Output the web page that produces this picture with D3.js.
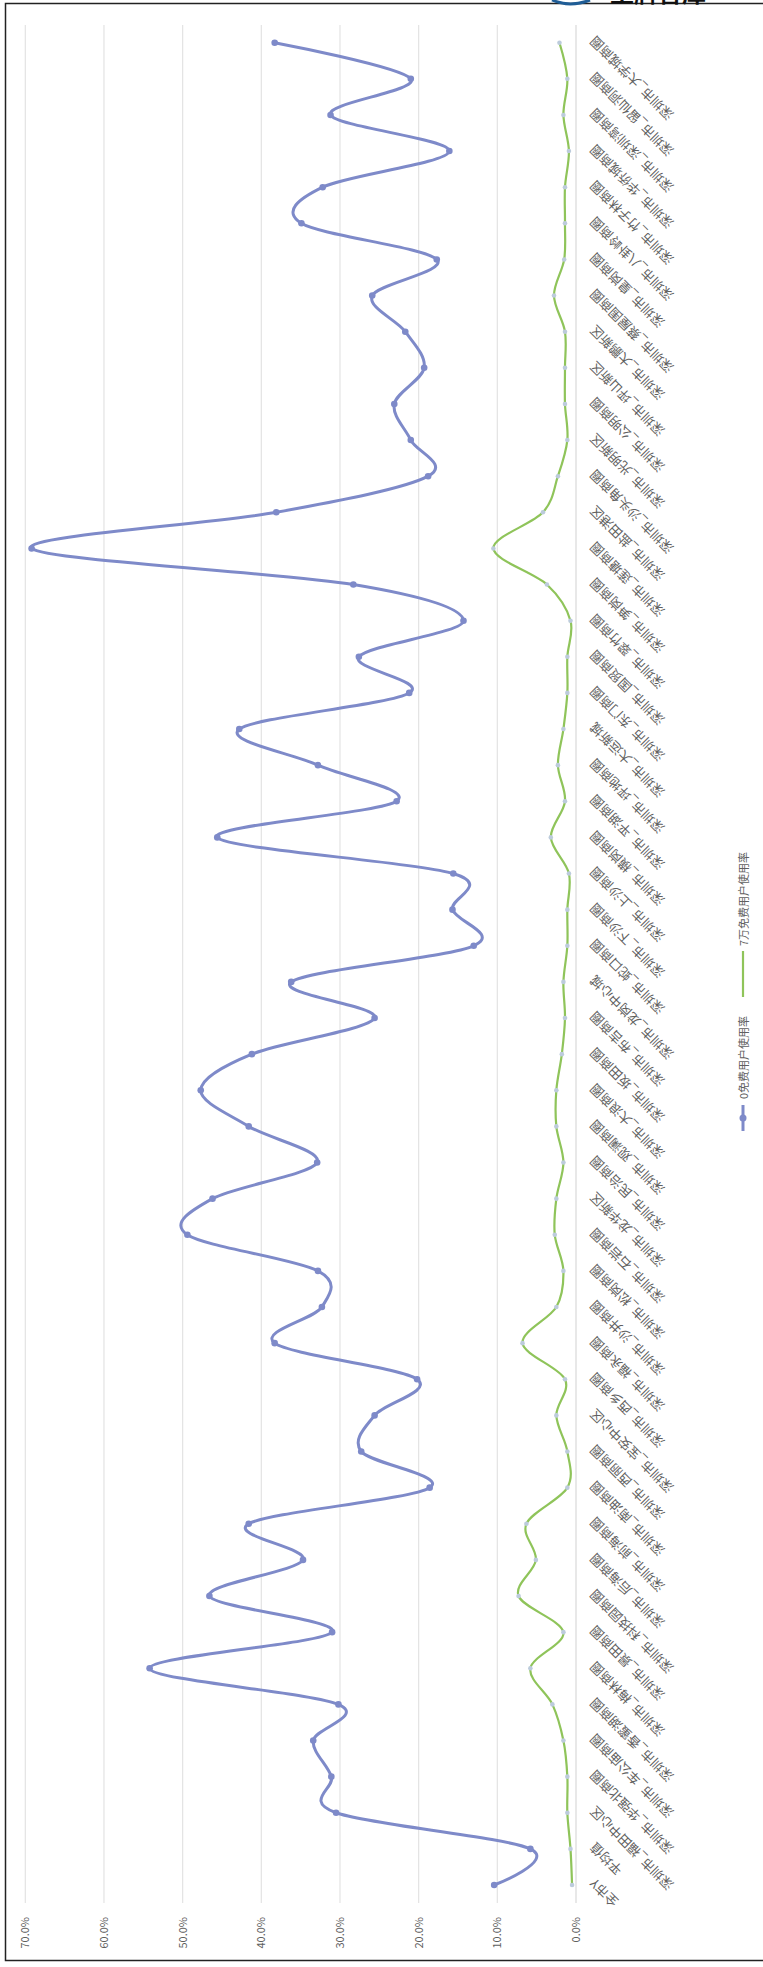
<!DOCTYPE html>
<html>
<head>
<meta charset="utf-8">
<script src="https://cdn.jsdelivr.net/npm/d3@7"></script>
<style>
  html, body { margin: 0; padding: 0; background: #fff; }
  svg { display: block; }
  text { font-family: "Noto Sans CJK SC", "Noto Sans", sans-serif; }
</style>
</head>
<body>
<svg id="chart"></svg>
<script>
// Category labels (first to last along the category axis)
const categories = [
  "全市Y", "平均值",
  "深圳市_福田中心区", "深圳市_华强北商圈", "深圳市_车公庙商圈", "深圳市_香蜜湖商圈", "深圳市_梅林商圈",
  "深圳市_景田商圈", "深圳市_科技园商圈", "深圳市_后海商圈", "深圳市_前海商圈", "深圳市_南油商圈",
  "深圳市_西丽商圈", "深圳市_宝安中心区", "深圳市_西乡商圈", "深圳市_福永商圈", "深圳市_沙井商圈",
  "深圳市_松岗商圈", "深圳市_石岩商圈", "深圳市_龙华新区", "深圳市_民治商圈", "深圳市_观澜商圈",
  "深圳市_大浪商圈", "深圳市_坂田商圈", "深圳市_布吉商圈", "深圳市_龙岗中心城", "深圳市_蛇口商圈",
  "深圳市_下沙商圈", "深圳市_上沙商圈", "深圳市_横岗商圈", "深圳市_平湖商圈", "深圳市_坪地商圈",
  "深圳市_大运新城", "深圳市_东门商圈", "深圳市_国贸商圈", "深圳市_翠竹商圈", "深圳市_笋岗商圈",
  "深圳市_莲塘商圈", "深圳市_盐田港区", "深圳市_沙头角商圈", "深圳市_光明新区", "深圳市_公明商圈",
  "深圳市_坪山新区", "深圳市_大鹏新区", "深圳市_蔡屋围商圈", "深圳市_皇岗商圈", "深圳市_八卦岭商圈",
  "深圳市_竹子林商圈", "深圳市_华侨城商圈", "深圳市_深圳湾商圈", "深圳市_留仙洞商圈", "深圳市_大学城商圈"
];

// Series values, in percent
const freeRate0 = [
  10.4, 5.8, 30.5, 31.1, 33.4, 30.2, 54.2, 31.0, 46.6, 34.7,
  41.6, 18.6, 27.3, 25.6, 20.2, 38.3, 32.3, 32.8, 49.4, 46.2,
  32.9, 41.6, 47.7, 41.2, 25.6, 36.2, 13.0, 15.7, 15.6, 45.6,
  22.8, 32.8, 42.8, 21.2, 27.6, 14.3, 28.3, 69.2, 38.1, 18.8,
  21.0, 23.1, 19.3, 21.7, 25.9, 17.7, 34.9, 32.2, 16.1, 31.2,
  21.0, 38.3
];
const freeRate7w = [
  0.5, 0.7, 1.1, 1.1, 1.6, 3.0, 5.8, 1.6, 7.3, 5.1,
  6.3, 1.1, 1.1, 2.5, 1.4, 6.8, 2.5, 1.6, 2.7, 2.5,
  1.6, 2.5, 2.5, 1.8, 1.4, 1.6, 1.1, 1.1, 0.9, 3.2,
  1.4, 2.3, 1.6, 1.1, 1.1, 0.7, 3.7, 10.5, 4.2, 2.3,
  1.1, 1.4, 1.4, 1.4, 2.8, 1.5, 1.4, 1.4, 0.9, 1.6,
  1.1, 2.1
];

const valueTicks = [0, 10, 20, 30, 40, 50, 60, 70];
const seriesNames = ["0免费用户使用率", "7万免费用户使用率"];

const W = 763, H = 1967;
const blue = "#7e8ac9", green = "#8fc45a", textGray = "#606060";

const svg = d3.select("#chart").attr("width", W).attr("height", H);

// The chart is laid out landscape (H wide, W tall) and turned a quarter turn.
const g = svg.append("g").attr("transform", `translate(0,${H}) rotate(-90)`);

const x = d3.scalePoint().domain(categories).range([82, 1924.3]);
const y = d3.scaleLinear().domain([0, 70]).range([576, 25.3]);
const plotLeft = 64, plotRight = 1942;

// gridlines
g.append("g").selectAll("line").data(valueTicks.slice(1)).join("line")
  .attr("x1", plotLeft).attr("x2", plotRight)
  .attr("y1", d => y(d)).attr("y2", d => y(d))
  .attr("stroke", "#e3e3e3").attr("stroke-width", 1.2);

// value axis
const yAxis = g.append("g").attr("transform", `translate(${plotLeft},0)`)
  .call(d3.axisLeft(y).tickValues(valueTicks).tickSize(0).tickPadding(14)
    .tickFormat(d => d.toFixed(1) + "%"));
yAxis.select(".domain").remove();
yAxis.selectAll("text").attr("fill", textGray).attr("font-size", 11);

// category axis
const xAxis = g.append("g").attr("transform", `translate(0,${y(0)})`)
  .call(d3.axisBottom(x).tickSize(0).tickPadding(0));
xAxis.select(".domain").attr("d", `M${plotLeft},0H${plotRight}`)
  .attr("stroke", "#d9d9d9").attr("stroke-width", 1.2);
xAxis.selectAll("text")
  .attr("fill", textGray).attr("font-size", 13)
  .attr("text-anchor", "end")
  .attr("dy", null).attr("y", null)
  .attr("transform", "translate(3,16) rotate(-45)")
  .attr("dominant-baseline", "central");

const curve = d3.curveCardinal.tension(0);
const line = d3.line().x((d, i) => x(categories[i])).y(d => y(d)).curve(curve);

// 7万 series
g.append("path").datum(freeRate7w).attr("d", line)
  .attr("fill", "none").attr("stroke", green).attr("stroke-width", 2.2);
g.append("g").selectAll("circle").data(freeRate7w).join("circle")
  .attr("cx", (d, i) => x(categories[i])).attr("cy", d => y(d))
  .attr("r", 2.3).attr("fill", "#bccbdc");

// 0 series
g.append("path").datum(freeRate0).attr("d", line)
  .attr("fill", "none").attr("stroke", blue).attr("stroke-width", 3);
g.append("g").selectAll("circle").data(freeRate0).join("circle")
  .attr("cx", (d, i) => x(categories[i])).attr("cy", d => y(d))
  .attr("r", 3.3).attr("fill", blue);

// legend
const legendY = 743;
const lg = g.append("g");
lg.append("line").attr("x1", 836).attr("x2", 862).attr("y1", legendY).attr("y2", legendY)
  .attr("stroke", blue).attr("stroke-width", 3);
lg.append("circle").attr("cx", 849).attr("cy", legendY).attr("r", 3.5).attr("fill", blue);
lg.append("text").attr("x", 868).attr("y", legendY).attr("dominant-baseline", "central")
  .attr("font-size", 11).attr("fill", textGray).text(seriesNames[0]);
lg.append("line").attr("x1", 970).attr("x2", 1016).attr("y1", legendY).attr("y2", legendY)
  .attr("stroke", green).attr("stroke-width", 2.2);
lg.append("text").attr("x", 1021).attr("y", legendY).attr("dominant-baseline", "central")
  .attr("font-size", 11).attr("fill", textGray).text(seriesNames[1]);

// page frame and header mark
svg.append("rect").attr("x", 5.5).attr("y", 3.5).attr("width", 800).attr("height", 1957)
  .attr("fill", "none").attr("stroke", "#222").attr("stroke-width", 1.5);
svg.append("path").attr("d", "M552,0 Q570,8 590,0").attr("fill", "none")
  .attr("stroke", "#1f5d96").attr("stroke-width", 3);
svg.append("text").attr("x", 610).attr("y", 2).attr("font-size", 24).attr("font-weight", "bold")
  .attr("fill", "#111").text("王牌智库");
</script>
</body>
</html>
